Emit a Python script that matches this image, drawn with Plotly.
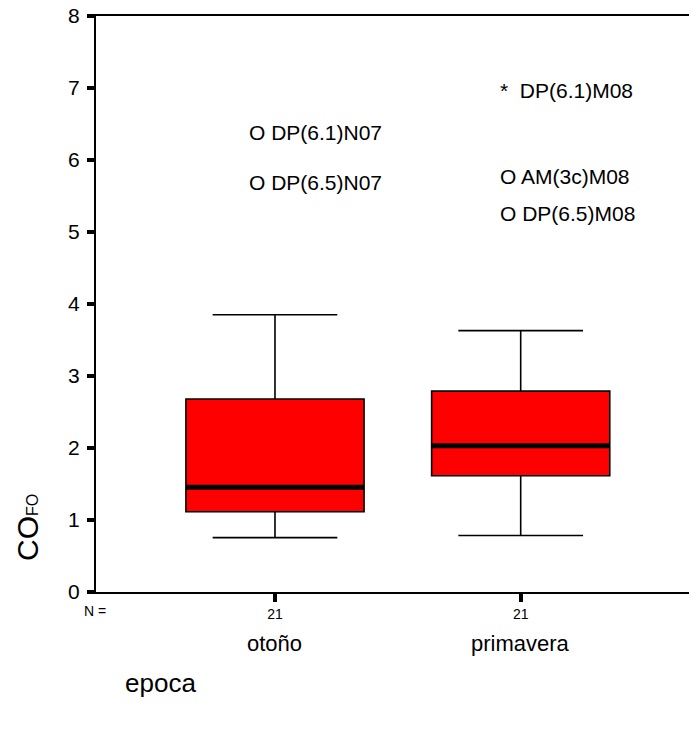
import plotly.graph_objects as go

# ---- data ----
categories = ["otoño", "primavera"]
n_counts = [21, 21]
q1 = [1.115, 1.615]
median = [1.455, 2.03]
q3 = [2.68, 2.79]
lower_whisker = [0.755, 0.785]
upper_whisker = [3.85, 3.63]

outlier_group = [0, 0, 1, 1, 1]
outlier_value = [6.38, 5.69, 6.97, 5.77, 5.26]
outlier_label = ["O DP(6.1)N07", "O DP(6.5)N07", "*\u00a0\u00a0DP(6.1)M08", "O AM(3c)M08", "O DP(6.5)M08"]

y_ticks = [0, 1, 2, 3, 4, 5, 6, 7, 8]

# ---- style ----
FONT = "Liberation Sans, Arial, sans-serif"
BOX_W = 0.725
label_shift = {0: -28, 1: -23}

fig = go.Figure()
xs = [i + 1 for i in range(len(categories))]
for i, x in enumerate(xs):
    fig.add_trace(go.Box(
        x=[x], q1=[q1[i]], median=[median[i]], q3=[q3[i]],
        lowerfence=[lower_whisker[i]], upperfence=[upper_whisker[i]],
        width=BOX_W, whiskerwidth=0.7,
        fillcolor="#ff0000", line=dict(color="black", width=1.6),
        boxpoints=False, showlegend=False, hoverinfo="skip",
    ))

# thick median lines
mx, my = [], []
for i, x in enumerate(xs):
    mx += [x - BOX_W / 2, x + BOX_W / 2, None]
    my += [median[i], median[i], None]
fig.add_trace(go.Scatter(x=mx, y=my, mode="lines", line=dict(color="black", width=5),
                         showlegend=False, hoverinfo="skip"))

annotations = []
for g, v, t in zip(outlier_group, outlier_value, outlier_label):
    annotations.append(dict(x=xs[g], y=v, xref="x", yref="y", text=t, showarrow=False,
                            xanchor="left", yanchor="middle", xshift=label_shift[g],
                            font=dict(family=FONT, size=21, color="black")))
for i, x in enumerate(xs):
    annotations.append(dict(x=x, y=0, xref="x", yref="paper", text=categories[i], showarrow=False,
                            xanchor="center", yanchor="middle", yshift=-51,
                            font=dict(family=FONT, size=22, color="black")))
annotations.append(dict(x=0, y=0, xref="paper", yref="paper", text="N =", showarrow=False,
                        xanchor="center", yanchor="middle", xshift=-1, yshift=-19,
                        font=dict(family=FONT, size=14, color="black")))
annotations.append(dict(x=(160 - 96) / 593, y=0, xref="paper", yref="paper", text="epoca",
                        showarrow=False, xanchor="center", yanchor="middle", yshift=-91,
                        font=dict(family=FONT, size=26, color="black")))
annotations.append(dict(x=(27 - 96) / 593, y=(592 - 528) / 576, xref="paper", yref="paper",
                        text="CO<span style='font-size:16px'>FO</span>", textangle=-90,
                        showarrow=False, xanchor="center", yanchor="middle",
                        font=dict(family=FONT, size=30, color="black")))

fig.update_layout(
    width=689, height=729,
    margin=dict(l=96, r=0, t=16, b=137),
    paper_bgcolor="white", plot_bgcolor="white",
    annotations=annotations,
    xaxis=dict(range=[0.2715, 2.685], tickvals=xs, ticktext=[str(n) for n in n_counts],
               tickfont=dict(family=FONT, size=14, color="black"),
               ticks="outside", ticklen=8, tickwidth=4, tickcolor="black",
               showline=True, linewidth=2, linecolor="black", mirror=True,
               showgrid=False, zeroline=False, fixedrange=True),
    yaxis=dict(range=[0, 8], tickvals=y_ticks,
               tickfont=dict(family=FONT, size=21, color="black"),
               ticks="outside", ticklen=7, tickwidth=4, tickcolor="black",
               ticklabelstandoff=3,
               showline=True, linewidth=2, linecolor="black",
               showgrid=False, zeroline=False, fixedrange=True),
)

fig.write_html("out.html")
